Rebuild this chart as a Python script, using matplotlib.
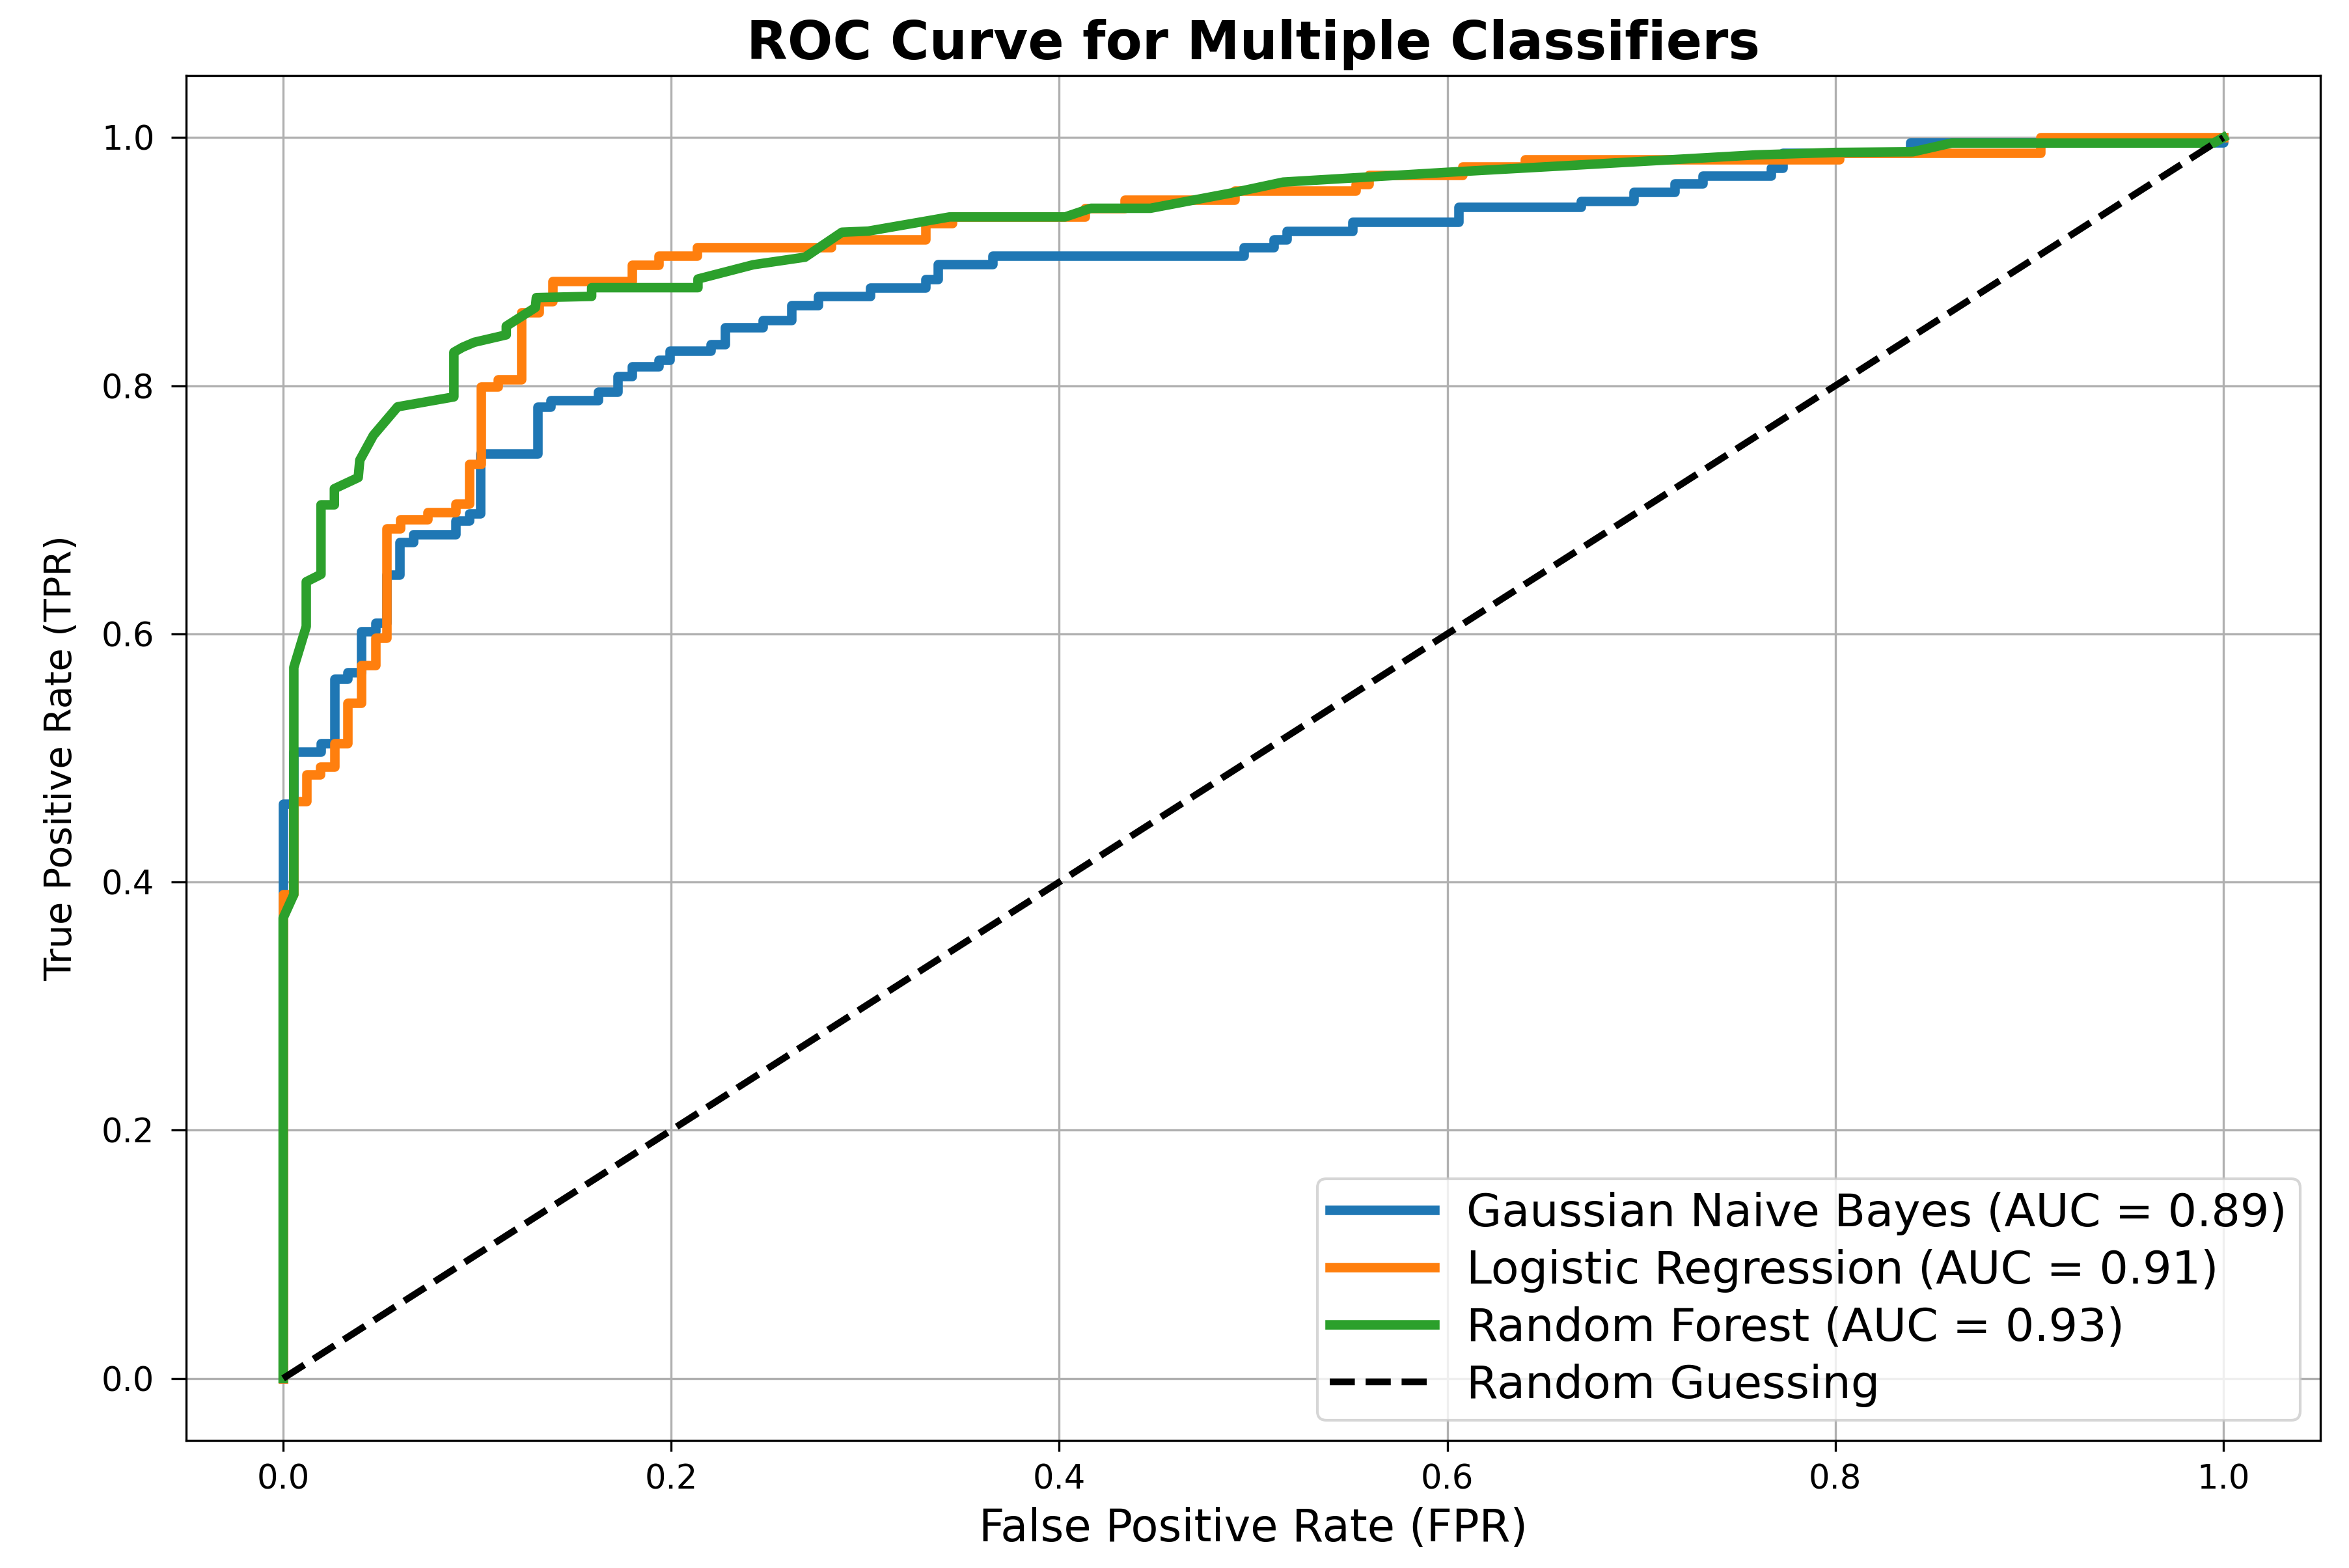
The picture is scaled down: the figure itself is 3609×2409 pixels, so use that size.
import matplotlib
matplotlib.use("Agg")
import matplotlib.pyplot as plt

# ---- data ----
gnb_fpr = [0, 0, 0.0055, 0.0055, 0.0195, 0.0195, 0.0264, 0.0264, 0.0331, 0.0331,
           0.0404, 0.0404, 0.0477, 0.0477, 0.0532, 0.0532, 0.06, 0.06, 0.0672, 0.0672,
           0.089, 0.089, 0.0958, 0.0958, 0.1016, 0.1016, 0.131, 0.131, 0.1377, 0.1377,
           0.1624, 0.1624, 0.1724, 0.1724, 0.1797, 0.1797, 0.1936, 0.1936, 0.1992, 0.1992,
           0.2205, 0.2205, 0.2277, 0.2277, 0.2473, 0.2473, 0.2619, 0.2619, 0.2758, 0.2758,
           0.3027, 0.3027, 0.331, 0.331, 0.3376, 0.3376, 0.3655, 0.3655, 0.4952, 0.4952,
           0.5106, 0.5106, 0.5173, 0.5173, 0.551, 0.551, 0.6058, 0.6058, 0.669, 0.669,
           0.696, 0.696, 0.7173, 0.7173, 0.7317, 0.7317, 0.767, 0.767, 0.773, 0.773,
           0.8385, 0.8385, 1.0, 1.0]
gnb_tpr = [0, 0.463, 0.463, 0.505, 0.505, 0.512, 0.512, 0.5636, 0.5636, 0.569,
           0.569, 0.602, 0.602, 0.609, 0.609, 0.6475, 0.6475, 0.6737, 0.6737, 0.680,
           0.680, 0.691, 0.691, 0.697, 0.697, 0.745, 0.745, 0.783, 0.783, 0.788,
           0.788, 0.7953, 0.7953, 0.8075, 0.8075, 0.8154, 0.8154, 0.8206, 0.8206, 0.828,
           0.828, 0.8332, 0.8332, 0.847, 0.847, 0.853, 0.853, 0.865, 0.865, 0.872,
           0.872, 0.879, 0.879, 0.886, 0.886, 0.898, 0.898, 0.9046, 0.9046, 0.9116,
           0.9116, 0.918, 0.918, 0.9248, 0.9248, 0.9318, 0.9318, 0.944, 0.944, 0.949,
           0.949, 0.956, 0.956, 0.963, 0.963, 0.9694, 0.9694, 0.9755, 0.9755, 0.9875,
           0.9875, 0.996, 0.996, 1.0]

lr_fpr = [0, 0, 0.0055, 0.0055, 0.0119, 0.0119, 0.019, 0.019, 0.0264, 0.0264,
          0.0331, 0.0331, 0.0404, 0.0404, 0.0477, 0.0477, 0.0532, 0.0532, 0.0605, 0.0605,
          0.0745, 0.0745, 0.089, 0.089, 0.0958, 0.0958, 0.1018, 0.1018, 0.1106, 0.1106,
          0.1226, 0.1226, 0.1317, 0.1317, 0.139, 0.139, 0.1797, 0.1797, 0.1936, 0.1936,
          0.2135, 0.2135, 0.2826, 0.2826, 0.331, 0.331, 0.345, 0.345, 0.4134, 0.4134,
          0.4336, 0.4336, 0.4904, 0.4904, 0.5529, 0.5529, 0.5596, 0.5596, 0.6077, 0.6077,
          0.640, 0.640, 0.802, 0.802, 0.9058, 0.9058, 1.0]
lr_tpr = [0, 0.39, 0.39, 0.465, 0.465, 0.4867, 0.4867, 0.493, 0.493, 0.512,
          0.512, 0.5444, 0.5444, 0.575, 0.575, 0.597, 0.597, 0.685, 0.685, 0.692,
          0.692, 0.698, 0.698, 0.705, 0.705, 0.737, 0.737, 0.799, 0.799, 0.805,
          0.805, 0.859, 0.859, 0.868, 0.868, 0.884, 0.884, 0.8975, 0.8975, 0.9045,
          0.9045, 0.9115, 0.9115, 0.9176, 0.9176, 0.931, 0.931, 0.936, 0.936, 0.943,
          0.943, 0.950, 0.950, 0.957, 0.957, 0.9624, 0.9624, 0.970, 0.970, 0.9764,
          0.9764, 0.9825, 0.9825, 0.9878, 0.9878, 1.0, 1.0]

rf_fpr = [0, 0, 0.0055, 0.0055, 0.0119, 0.0119, 0.0195, 0.0195, 0.0264, 0.0264,
          0.0387, 0.0395, 0.0465, 0.059, 0.088, 0.088, 0.0925, 0.0985, 0.115, 0.115,
          0.130, 0.1305, 0.159, 0.159, 0.2138, 0.2138, 0.2423, 0.269, 0.288, 0.3016,
          0.3307, 0.3434, 0.403, 0.4163, 0.447, 0.491, 0.5154, 0.6, 0.669, 0.759,
          0.8, 0.84, 0.86, 0.995, 1.0]
rf_tpr = [0, 0.371, 0.39, 0.573, 0.606, 0.642, 0.648, 0.704, 0.704, 0.717,
          0.726, 0.740, 0.760, 0.783, 0.791, 0.827, 0.831, 0.835, 0.841, 0.848,
          0.863, 0.871, 0.872, 0.879, 0.879, 0.886, 0.8975, 0.9036, 0.9237, 0.9246,
          0.9325, 0.936, 0.936, 0.943, 0.943, 0.956, 0.9641, 0.972, 0.978, 0.986,
          0.988, 0.9885, 0.9956, 0.9956, 1.0]

labels = ["Gaussian Naive Bayes (AUC = 0.89)",
          "Logistic Regression (AUC = 0.91)",
          "Random Forest (AUC = 0.93)",
          "Random Guessing"]
colors = ["#1f77b4", "#ff7f0e", "#2ca02c"]

fig = plt.figure(figsize=(3609 / 300, 2409 / 300), dpi=300)
ax = fig.add_axes([286 / 3609, 1 - 2213 / 2409, (3565 - 286) / 3609, (2213 - 116) / 2409])

ax.plot(gnb_fpr, gnb_tpr, color=colors[0], lw=3.5, label=labels[0])
ax.plot(lr_fpr, lr_tpr, color=colors[1], lw=3.5, label=labels[1])
ax.plot(rf_fpr, rf_tpr, color=colors[2], lw=3.5, label=labels[2])
ax.plot([0, 1], [0, 1], "k--", lw=2.5, label=labels[3])

ax.set_xticks([0.0, 0.2, 0.4, 0.6, 0.8, 1.0])
ax.set_yticks([0.0, 0.2, 0.4, 0.6, 0.8, 1.0])
ax.tick_params(axis="x", labelsize=12.3, length=4, pad=4.5)
ax.tick_params(axis="y", labelsize=12.3, length=5.5, pad=6.2)
ax.set_xlabel("False Positive Rate (FPR)", fontsize=16.5)
ax.set_ylabel("True Positive Rate (TPR)", fontsize=13.8, labelpad=8)
ax.set_title("ROC Curve for Multiple Classifiers", fontsize=19.6, fontweight="bold")
ax.grid(True)
ax.legend(loc="lower right", fontsize=16.8, handlelength=2.3,
          handletextpad=0.7, labelspacing=0.3, borderpad=0.28,
          borderaxespad=0.45)

fig.savefig("out.png", dpi=300)
